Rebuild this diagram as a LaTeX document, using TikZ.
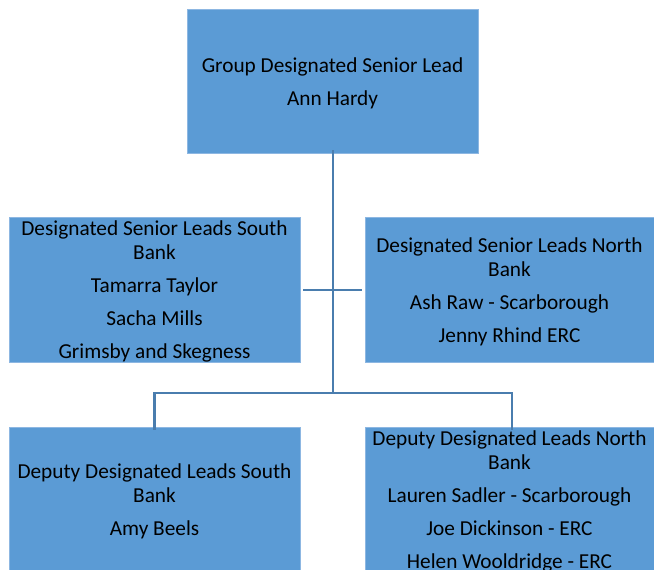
\documentclass[tikz,border=0pt]{standalone}
\usepackage{fontspec}
\setmainfont{Carlito}
\definecolor{boxfill}{HTML}{5B9BD5}
\definecolor{boxedge}{HTML}{8DB7E2}
\definecolor{linkcol}{HTML}{4A7DAE}
\begin{document}
\begin{tikzpicture}[x=1pt,y=-1pt,
  orgbox/.style={rectangle,fill=boxfill,draw=boxedge,line width=0.8pt,inner sep=0pt},
  orgtext/.style={label={[align=center,inner sep=0pt,yshift=-2pt,
    font=\fontsize{21.3}{24}\selectfont,text=black]center:#1}},
  link/.style={draw=linkcol,line width=2.6pt}]
\useasboundingbox (0,0) rectangle (654,570);
\clip (0,0) rectangle (654,570);
\fill[white] (0,0) rectangle (654,570);
\node[orgbox,minimum width=291pt,minimum height=144pt,
  orgtext={Group Designated Senior Lead\\[9pt]Ann Hardy}] (top) at (332.5,81) {};
\node[orgbox,minimum width=291pt,minimum height=145pt,
  orgtext={Designated Senior Leads South\\Bank\\[9pt]Tamarra Taylor\\[9pt]Sacha Mills\\[9pt]Grimsby and Skegness}] (lm) at (154.5,289.5) {};
\node[orgbox,minimum width=289pt,minimum height=145pt,
  orgtext={Designated Senior Leads North\\Bank\\[9pt]Ash Raw - Scarborough\\[9pt]Jenny Rhind ERC}] (rm) at (509.5,289.5) {};
\node[orgbox,minimum width=291pt,minimum height=144pt,
  orgtext={Deputy Designated Leads South\\Bank\\[9pt]Amy Beels}] (lb) at (154.5,499) {};
\node[orgbox,minimum width=289pt,minimum height=144pt,
  orgtext={Deputy Designated Leads North\\Bank\\[9pt]Lauren Sadler - Scarborough\\[9pt]Joe Dickinson - ERC\\[9pt]Helen Wooldridge - ERC}] (rb) at (509.5,499) {};
\coordinate (j1) at (333,290);
\coordinate (j2) at (333,393);
\draw[link] ([yshift=3pt]top.south -| j1) -- (j2);
\draw[link] ([xshift=3pt]lm.east |- j1) -- ([xshift=-3pt]rm.west |- j1);
\draw[link] ([yshift=-3pt]lb.north) -- (lb.north |- j2) -- ([xshift=2.5pt]rb.north |- j2) -- ([xshift=2.5pt,yshift=-3pt]rb.north);
\end{tikzpicture}
\end{document}
